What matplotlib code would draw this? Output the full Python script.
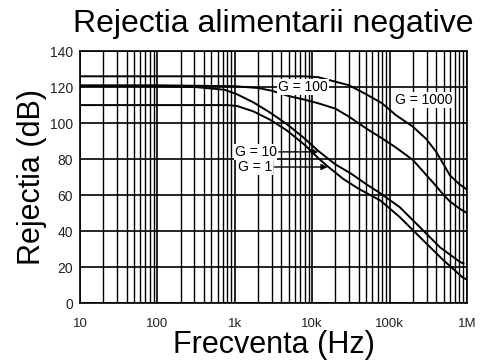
import numpy as np
import matplotlib
matplotlib.use("Agg")
import matplotlib.pyplot as plt
import matplotlib.ticker as ticker

plt.rcParams['font.family'] = ['Liberation Sans', 'DejaVu Sans']

# curve data (frequency in Hz, rejection in dB)
freq_g1000 = [10, 100, 1000, 2000, 3000, 5000, 8000, 12000, 20000, 30000, 50000,
              80000, 120000, 200000, 300000, 400000, 500000, 600000, 800000, 1000000]
rej_g1000 = [126, 126, 126, 126, 126, 126, 126, 125.5, 123, 121, 116,
             111, 104.5, 98, 91, 84, 77, 71, 66, 63]

freq_g100 = [10, 100, 1000, 2000, 3000, 5000, 8000, 12000, 20000, 30000, 50000,
             80000, 120000, 200000, 300000, 400000, 500000, 600000, 800000, 1000000]
rej_g100 = [121, 121, 120.5, 119.5, 118, 115, 113, 111, 108, 103.5, 97,
            91.5, 86.5, 79.5, 71, 65, 60, 56.5, 52.5, 50]

freq_g10 = [10, 100, 316, 741, 1070, 1740, 2820, 4680, 7940, 12000, 20000,
            31600, 50100, 75900, 135000, 269000, 447000, 813000, 900000]
rej_g10 = [120.5, 120.5, 120, 118.5, 116, 111.5, 106, 99.5, 91.5, 84.5, 77,
           72, 66, 61, 53.3, 40.5, 31, 22.8, 22]

freq_g1 = [10, 100, 794, 1070, 1740, 2820, 4680, 7940, 12000, 15800, 25100,
           39800, 75900, 135000, 269000, 490000, 891000, 1000000]
rej_g1 = [110, 110, 110, 109.5, 106.5, 102, 96, 88, 80.5, 76, 69,
          63.5, 57, 47.8, 35, 24, 14, 13]

x_ticks = [10, 100, 1000, 10000, 100000, 1000000]
x_tick_labels = ["10", "100", "1k", "10k", "100k", "1M"]
y_ticks = [0, 20, 40, 60, 80, 100, 120, 140]

fig = plt.figure(figsize=(4.89, 3.6), dpi=100)
ax = fig.add_axes([0.1636, 0.1583, 0.7914, 0.6997])

for f, r in [(freq_g1000, rej_g1000), (freq_g100, rej_g100),
             (freq_g10, rej_g10), (freq_g1, rej_g1)]:
    ax.plot(f, r, color="black", linewidth=1.4, zorder=3)

ax.set_xscale("log")
ax.set_xlim(10, 1e6)
ax.set_ylim(0, 140)
ax.set_xticks(x_ticks)
ax.set_xticklabels(x_tick_labels)
ax.set_yticks(y_ticks)
ax.xaxis.set_minor_locator(ticker.LogLocator(base=10, subs=np.arange(2, 10)))
ax.xaxis.set_minor_formatter(ticker.NullFormatter())

ax.grid(which="major", color="black", linewidth=1.2)
ax.grid(which="minor", axis="x", color="black", linewidth=1.0)
ax.tick_params(which="both", length=0)
ax.tick_params(axis="x", pad=11, labelsize=9.5, labelcolor="#222222")
ax.tick_params(axis="y", pad=5, labelsize=10, labelcolor="#222222")
for s in ax.spines.values():
    s.set_color("black")
    s.set_linewidth(1.2)

ax.set_title("Rejectia alimentarii negative", fontsize=23, pad=14)
ax.set_xlabel("Frecventa (Hz)", fontsize=22, labelpad=0)
ax.set_ylabel("Rejectia (dB)", fontsize=22, labelpad=2)

box = dict(facecolor="white", edgecolor="none", pad=0.5)
ax.text(7600, 120, "G = 100", fontsize=10, ha="center", va="center", bbox=box, zorder=4)
ax.text(277000, 112.8, "G = 1000", fontsize=10, ha="center", va="center", bbox=box, zorder=4)

arrow = dict(arrowstyle="-|>", color="black", lw=1.0, shrinkA=1, shrinkB=0,
             mutation_scale=9)
ax.annotate("G = 10", xy=(12000, 84), xytext=(1000, 84), fontsize=10,
            ha="left", va="center", arrowprops=arrow, bbox=box, zorder=4)
ax.annotate("G = 1", xy=(15800, 75.6), xytext=(1100, 75.6), fontsize=10,
            ha="left", va="center", arrowprops=arrow, bbox=box, zorder=4)

fig.savefig("out.png", dpi=100)
